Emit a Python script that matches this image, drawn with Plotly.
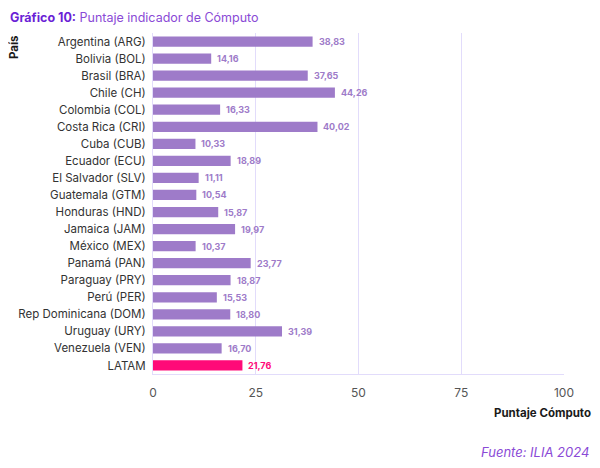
import plotly.graph_objects as go

# Puntaje indicador de Cómputo por país (ILIA 2024)
paises = [
    "Argentina (ARG)", "Bolivia (BOL)", "Brasil (BRA)", "Chile (CH)",
    "Colombia (COL)", "Costa Rica (CRI)", "Cuba (CUB)", "Ecuador (ECU)",
    "El Salvador (SLV)", "Guatemala (GTM)", "Honduras (HND)", "Jamaica (JAM)",
    "México (MEX)", "Panamá (PAN)", "Paraguay (PRY)", "Perú (PER)",
    "Rep Dominicana (DOM)", "Uruguay (URY)", "Venezuela (VEN)", "LATAM",
]
puntajes = [
    38.83, 14.16, 37.65, 44.26, 16.33, 40.02, 10.33, 18.89, 11.11, 10.54,
    15.87, 19.97, 10.37, 23.77, 18.87, 15.53, 18.80, 31.39, 16.70, 21.76,
]
x_ticks = [0, 25, 50, 75, 100]

PURPLE = "#9e7bc9"
PINK = "#ff0a78"
GRID = "#e2dcfb"
FONT = "Inter, sans-serif"
colors = [PINK if p == "LATAM" else PURPLE for p in paises]

# page body has an 8px margin, so the figure is sized and laid out to fit it
W, H = 592, 460
ML, MR, MT, MB = 145, 36, 25, 94
PW, PH = W - ML - MR, H - MT - MB


def px(x):
    return (x - ML) / PW


def py(y):
    return 1 - (y - MT) / PH


fig = go.Figure()
fig.add_trace(go.Bar(
    x=puntajes,
    y=paises,
    orientation="h",
    marker=dict(color=colors, line=dict(width=0)),
    width=0.6,
    hoverinfo="skip",
))

# value labels, decimal comma
for p, v, c in zip(paises, puntajes, colors):
    fig.add_annotation(
        x=v, y=p, xref="x", yref="y",
        text=f"<b>{v:.2f}</b>".replace(".", ","),
        showarrow=False, xanchor="left", xshift=4,
        font=dict(family=FONT, size=9, color=c),
    )

fig.add_annotation(
    x=px(0), y=py(0), xref="paper", yref="paper",
    text="<b>Gráfico 10:</b> <span style='color:#8a4ad6'>Puntaje indicador de Cómputo</span>",
    showarrow=False, xanchor="left", yanchor="top",
    font=dict(family=FONT, size=12.5, color="#6b1fd6"),
)
fig.add_annotation(
    x=px(6), y=py(39), xref="paper", yref="paper",
    text="<b>País</b>", textangle=-90, showarrow=False,
    xanchor="center", yanchor="middle",
    font=dict(family=FONT, size=11.5, color="#1a1a1a"),
)
fig.add_annotation(
    x=px(585), y=py(405), xref="paper", yref="paper",
    text="<b>Puntaje Cómputo</b>", showarrow=False, xanchor="right", yanchor="middle",
    font=dict(family=FONT, size=11.5, color="#1a1a1a"),
)
fig.add_annotation(
    x=px(583), y=py(444), xref="paper", yref="paper",
    text="<i>Fuente: ILIA 2024</i>", showarrow=False, xanchor="right", yanchor="middle",
    font=dict(family=FONT, size=13, color="#8a4ad6"),
)

fig.update_layout(
    width=W, height=H,
    margin=dict(l=ML, r=MR, t=MT, b=MB, pad=0),
    paper_bgcolor="white", plot_bgcolor="white",
    showlegend=False,
    font=dict(family=FONT, size=11.5, color="#333333"),
    xaxis=dict(
        range=[0, 100], tickvals=x_ticks, ticktext=[str(t) for t in x_ticks],
        showgrid=True, gridcolor=GRID, gridwidth=1,
        zeroline=False, showline=True, linecolor=GRID, linewidth=1,
        ticks="", tickfont=dict(size=12, color="#555555"),
        ticklabelstandoff=8, automargin=False,
    ),
    yaxis=dict(
        autorange="reversed", showgrid=False, zeroline=False,
        showline=True, linecolor=GRID, linewidth=1,
        ticks="", tickfont=dict(size=11.5, color="#333333"),
        ticklabelstandoff=4, automargin=False,
    ),
)

fig.write_html("out.html")
